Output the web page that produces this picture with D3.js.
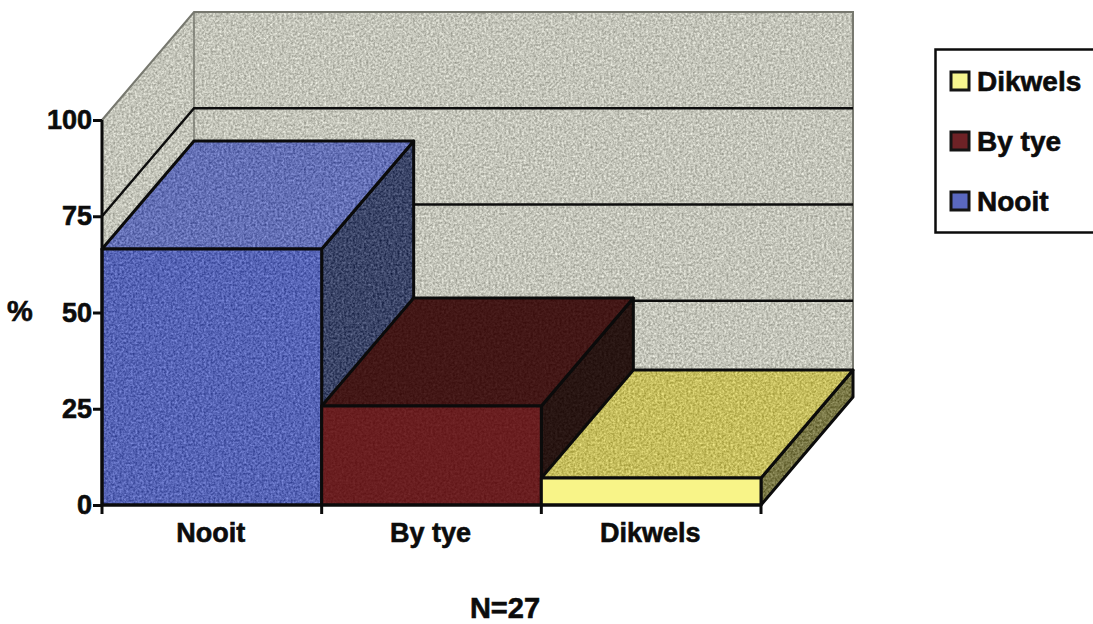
<!DOCTYPE html>
<html>
<head>
    <meta charset="utf-8">
    <title>N=27</title>
    <script src="https://d3js.org/d3.v7.min.js"></script>
    <style>
        html, body { margin: 0; padding: 0; background: #fff; }
        text {
            font-family: "Liberation Sans", Arial, sans-serif;
            font-weight: bold;
            fill: #0c0c0c;
            stroke: #0c0c0c;
            stroke-width: 0.6px;
        }
    </style>
</head>
<body>
<div id="chart"></div>
<script type="text/javascript">

    let categories = ["Nooit", "By tye", "Dikwels"];
    let values = [66.5, 25.7, 7.0];
    let yTicks = [0, 25, 50, 75, 100];
    let legendLabels = ["Dikwels", "By tye", "Nooit"];

    let colors = {
        "Nooit":   {front: "#5664b6", top: "#6470b6", side: "#3b4568", key: "#5a68c0"},
        "By tye":  {front: "#6a1e20", top: "#431716", side: "#281512", key: "#6e2226"},
        "Dikwels": {front: "#f8f488", top: "#c6be5e", side: "#7a7846", key: "#f6f58e"}
    };

    let w = 1093, h = 624;
    let margin = {left: 102, right: 332, top: 120, bottom: 119};

    // how far the back wall sits behind the front plane
    let depthX = 92, depthY = 108;

    let svg = d3.select("#chart")
        .append("svg")
        .attr("width", w)
        .attr("height", h)
        .style("display", "block");

    // speckle for the painted surfaces: source colour +/- noise
    function grain(id, amount) {
        let f = svg.append("filter").attr("id", id)
            .attr("x", 0).attr("y", 0).attr("width", 1).attr("height", 1)
            .attr("color-interpolation-filters", "sRGB");
        f.append("feTurbulence")
            .attr("type", "fractalNoise")
            .attr("baseFrequency", 0.45)
            .attr("numOctaves", 2)
            .attr("seed", 4)
            .attr("result", "noise");
        f.append("feColorMatrix")
            .attr("in", "noise")
            .attr("type", "matrix")
            .attr("values", "1 0 0 0 0 1 0 0 0 0 1 0 0 0 0 0 0 0 0 1")
            .attr("result", "grey");
        f.append("feComposite")
            .attr("in", "SourceGraphic")
            .attr("in2", "grey")
            .attr("operator", "arithmetic")
            .attr("k1", 0)
            .attr("k2", 1)
            .attr("k3", amount)
            .attr("k4", -amount / 2)
            .attr("result", "mixed");
        f.append("feComposite")
            .attr("in", "mixed")
            .attr("in2", "SourceAlpha")
            .attr("operator", "in");
    }
    grain("grainWall", 0.5);
    grain("grainBar", 0.45);
    grain("grainDark", 0.12);

    let xScale = d3.scaleBand()
        .domain(categories)
        .range([margin.left, w - margin.right]);

    let yScale = d3.scaleLinear()
        .domain([0, 100])
        .range([h - margin.bottom, margin.top]);

    let line = d3.line();

    // front plane point -> same point pushed back to the wall
    function back(p) {
        return [p[0] + depthX, p[1] - depthY];
    }

    // fill goes through the grain filter, outline is drawn on top of it
    function poly(pts, fill, filter, stroke, sw) {
        let p = svg.append("path")
            .attr("d", line(pts) + "Z")
            .attr("fill", fill);
        if (filter) p.attr("filter", "url(#" + filter + ")");
        if (stroke) {
            svg.append("path")
                .attr("d", line(pts) + "Z")
                .attr("fill", "none")
                .attr("stroke", stroke)
                .attr("stroke-width", sw)
                .attr("stroke-linejoin", "round");
        }
    }

    let x0 = xScale.range()[0], x1 = xScale.range()[1];
    let yBottom = yScale(0), yTop = yScale(100);

    // walls
    let wallFill = "#c4c5ba", wallEdge = "#77786f";
    poly([[x0, yBottom], [x0, yTop], back([x0, yTop]), back([x0, yBottom])], wallFill, "grainWall");
    poly([back([x0, yBottom]), back([x0, yTop]), back([x1, yTop]), back([x1, yBottom])], wallFill, "grainWall");

    svg.append("path")
        .attr("d", line([[x0, yTop], back([x0, yTop]), back([x1, yTop]), back([x1, yBottom])]))
        .attr("fill", "none")
        .attr("stroke", wallEdge)
        .attr("stroke-width", 2);
    svg.append("path")
        .attr("d", line([back([x0, yTop]), back([x0, yBottom])]))
        .attr("fill", "none")
        .attr("stroke", wallEdge)
        .attr("stroke-width", 1.5);

    // gridlines wrap round the side wall and along the back
    yTicks.filter(t => t > 0 && t < 100).forEach(function(t) {
        let y = yScale(t);
        svg.append("path")
            .attr("d", line([[x0, y], back([x0, y]), back([x1, y])]))
            .attr("fill", "none")
            .attr("stroke", "#0d0d0d")
            .attr("stroke-width", 2.4);
    });

    // bars, left one first so its neighbour covers the lower part of its side
    categories.forEach(function(c, i) {
        let l = xScale(c), r = l + xScale.bandwidth();
        let y = yScale(values[i]);
        let col = colors[c];
        let dark = c === "By tye";
        let f = dark ? "grainDark" : "grainBar";

        poly([[r, y], back([r, y]), back([r, yBottom]), [r, yBottom]], col.side, f, "#0b0b0b", 3);
        poly([[l, y], back([l, y]), back([r, y]), [r, y]], col.top, f, "#0b0b0b", 3);
        poly([[l, yBottom], [l, y], [r, y], [r, yBottom]], col.front, c === "Dikwels" ? null : f, "#0b0b0b", 3);
    });

    // axes
    let yAxis = d3.axisLeft(yScale)
        .tickValues(yTicks)
        .tickSize(9)
        .tickPadding(1);
    let gy = svg.append("g")
        .attr("transform", "translate(" + x0 + ",0)")
        .call(yAxis);
    gy.select(".domain").attr("stroke", "#0b0b0b").attr("stroke-width", 3).attr("d", line([[0, yTop], [0, yBottom]]));
    gy.selectAll(".tick line").attr("stroke", "#0b0b0b").attr("stroke-width", 3);
    gy.selectAll(".tick text")
        .attr("font-family", null)
        .style("font-size", "27px")
        .attr("fill", null);

    let xAxis = d3.axisBottom(xScale).tickSize(0).tickPadding(18);
    let gx = svg.append("g")
        .attr("transform", "translate(-1," + yBottom + ")")
        .call(xAxis);
    gx.select(".domain").attr("stroke", "#0b0b0b").attr("stroke-width", 3).attr("d", line([[x0 + 1, 0], [x1 + 1, 0]]));
    gx.selectAll(".tick text")
        .attr("font-family", null)
        .style("font-size", "27px")
        .attr("fill", null);

    // ticks fall on the band edges, between the categories
    gx.selectAll("line.edge")
        .data(categories.map(c => xScale(c)).concat([x1]))
        .enter()
        .append("line")
        .attr("class", "edge")
        .attr("x1", d => d + 1).attr("x2", d => d + 1)
        .attr("y1", 0).attr("y2", 9)
        .attr("stroke", "#0b0b0b")
        .attr("stroke-width", 3);

    svg.append("text")
        .attr("x", 20)
        .attr("y", 321)
        .attr("text-anchor", "middle")
        .style("font-size", "29px")
        .text("%");

    svg.append("text")
        .attr("x", 505)
        .attr("y", 617.5)
        .attr("text-anchor", "middle")
        .style("font-size", "29px")
        .text("N=27");

    // legend, runs off the right of the page
    svg.append("rect")
        .attr("x", 935.5)
        .attr("y", 49.5)
        .attr("width", 170)
        .attr("height", 183)
        .attr("fill", "#fff")
        .attr("stroke", "#0b0b0b")
        .attr("stroke-width", 2.5);

    let legendY = d3.scalePoint()
        .domain(legendLabels)
        .range([81, 201]);

    legendLabels.forEach(function(c) {
        svg.append("rect")
            .attr("x", 951)
            .attr("y", legendY(c) - 9)
            .attr("width", 18)
            .attr("height", 18)
            .attr("fill", colors[c].key)
            .attr("stroke", "#141414")
            .attr("stroke-width", 3);
        svg.append("text")
            .attr("x", 977)
            .attr("y", legendY(c) + 10)
            .style("font-size", "28px")
            .text(c);
    });

</script>
</body>
</html>
